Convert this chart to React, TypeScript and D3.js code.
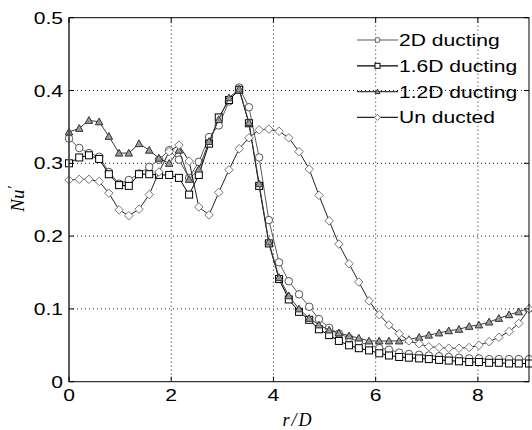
import React from "react";
import * as d3 from "d3";

// r/D stations (47 points, same for all series)
const rValues = [
  0, 0.2, 0.39, 0.59, 0.78, 0.98, 1.17, 1.37, 1.57, 1.76, 1.96, 2.15, 2.35, 2.54, 2.74, 2.93,
  3.13, 3.33, 3.52, 3.72, 3.91, 4.11, 4.3, 4.5, 4.7, 4.89, 5.09, 5.28, 5.48, 5.67, 5.87, 6.07,
  6.26, 6.46, 6.65, 6.85, 7.04, 7.24, 7.43, 7.63, 7.83, 8.02, 8.22, 8.41, 8.61, 8.8, 9.0,
];

const nu2D = [
  0.334, 0.321, 0.314, 0.309, 0.288, 0.272, 0.277, 0.286, 0.295, 0.305, 0.318, 0.305, 0.28, 0.302, 0.336, 0.352,
  0.385, 0.404, 0.377, 0.308, 0.222, 0.164, 0.138, 0.12, 0.103, 0.086, 0.074, 0.066, 0.06, 0.055, 0.05, 0.046,
  0.044, 0.04, 0.038, 0.037, 0.036, 0.035, 0.034, 0.033, 0.032, 0.032, 0.031, 0.031, 0.031, 0.031, 0.031,
];

const nu16D = [
  0.3, 0.308, 0.311, 0.306, 0.285, 0.27, 0.269, 0.285, 0.285, 0.284, 0.284, 0.28, 0.257, 0.284, 0.327, 0.363,
  0.387, 0.401, 0.355, 0.269, 0.19, 0.141, 0.113, 0.096, 0.085, 0.072, 0.064, 0.056, 0.05, 0.046, 0.043, 0.039,
  0.036, 0.034, 0.033, 0.032, 0.031, 0.03, 0.029, 0.028, 0.027, 0.027, 0.026, 0.026, 0.025, 0.025, 0.025,
];

const nu12D = [
  0.343, 0.348, 0.359, 0.357, 0.337, 0.314, 0.314, 0.327, 0.318, 0.307, 0.3, 0.318, 0.278, 0.292, 0.33, 0.36,
  0.39, 0.402, 0.356, 0.272, 0.192, 0.143, 0.118, 0.1, 0.087, 0.078, 0.071, 0.067, 0.063, 0.06, 0.056, 0.056,
  0.056, 0.056, 0.058, 0.061, 0.064, 0.067, 0.07, 0.072, 0.076, 0.078, 0.082, 0.087, 0.092, 0.096, 0.101,
];

const nuUnducted = [
  0.277, 0.278, 0.278, 0.275, 0.259, 0.236, 0.228, 0.237, 0.257, 0.288, 0.316, 0.325, 0.303, 0.24, 0.229, 0.26,
  0.291, 0.32, 0.335, 0.346, 0.347, 0.344, 0.335, 0.316, 0.292, 0.256, 0.221, 0.189, 0.162, 0.137, 0.111, 0.092,
  0.078, 0.066, 0.056, 0.052, 0.048, 0.047, 0.046, 0.046, 0.047, 0.05, 0.055, 0.061, 0.069, 0.08, 0.1,
];

const seriesNames = ["2D ducting", "1.6D ducting", "1.2D ducting", "Un ducted"];
const xTicks = [0, 2, 4, 6, 8];
const yTicks = [0, 0.1, 0.2, 0.3, 0.4, 0.5];

const series = [
  { name: seriesNames[0], values: nu2D, line: "#5a5a5a", marker: "circle", stroke: "#555", fill: "#fff" },
  { name: seriesNames[1], values: nu16D, line: "#000", marker: "square", stroke: "#000", fill: "#fff" },
  { name: seriesNames[2], values: nu12D, line: "#3a3a3a", marker: "triangle", stroke: "#333", fill: "#9a9a9a" },
  { name: seriesNames[3], values: nuUnducted, line: "#222", marker: "diamond", stroke: "#777", fill: "#fff" },
];

const W = 532, H = 430;
const left = 69, right = 529, top = 17.7, bottom = 381.7;
const FONT = "'Liberation Sans', Arial, sans-serif";
const SERIF = "'Liberation Serif', 'Times New Roman', serif";
const STRETCH = 1.24;

function Marker({ type, x, y, s, stroke, fill }) {
  if (type === "circle") return <circle cx={x} cy={y} r={s / 2} stroke={stroke} fill={fill} />;
  if (type === "square") return <rect x={x - s / 2} y={y - s / 2} width={s} height={s} stroke={stroke} fill={fill} />;
  if (type === "triangle") {
    const h = s / 2;
    return <path d={`M${x},${y - h} L${x + h},${y + h * 0.8} L${x - h},${y + h * 0.8} Z`} stroke={stroke} fill={fill} />;
  }
  const h = s / 2 + 0.5;
  return <path d={`M${x},${y - h} L${x + h},${y} L${x},${y + h} L${x - h},${y} Z`} stroke={stroke} fill={fill} />;
}

function StretchText({ x, y, anchor, size, children }) {
  return (
    <g transform={`translate(${x},${y}) scale(${STRETCH},1)`}>
      <text x={0} y={0} textAnchor={anchor} fontFamily={FONT} fontSize={size} fill="#000">
        {children}
      </text>
    </g>
  );
}

export default function App() {
  const x = d3.scaleLinear().domain([0, 9]).range([left, right]);
  const y = d3.scaleLinear().domain([0, 0.5]).range([bottom, top]);
  const line = d3
    .line<number>()
    .x((_, i) => x(rValues[i]))
    .y((d) => y(d));

  const legendX1 = 357, legendX2 = 398, legendY0 = 40, legendStep = 25.8;

  return (
    <svg width={W} height={H} style={{ position: "absolute", left: 0, top: 0, background: "#fff" }}>
      <rect x={0} y={0} width={W} height={H} fill="#fff" />

      {/* grid */}
      {xTicks.filter((t) => t > 0).map((t) => (
        <line key={"gx" + t} x1={x(t)} x2={x(t)} y1={top} y2={bottom} stroke="#222" strokeWidth={1} strokeDasharray="1,3" />
      ))}
      {yTicks.filter((t) => t > 0 && t < 0.5).map((t) => (
        <line key={"gy" + t} x1={left} x2={right} y1={y(t)} y2={y(t)} stroke="#222" strokeWidth={1} strokeDasharray="1,3" />
      ))}

      {/* series */}
      {series.map((s) => (
        <g key={s.name}>
          <path d={line(s.values)} fill="none" stroke={s.line} strokeWidth={1} />
          {s.values.map((v, i) => (
            <Marker key={i} type={s.marker} x={x(rValues[i])} y={y(v)} s={s.marker === "square" ? 7 : 7.5} stroke={s.stroke} fill={s.fill} />
          ))}
        </g>
      ))}

      {/* axes box */}
      <rect x={left} y={top} width={right - left} height={bottom - top} fill="none" stroke="#000" strokeWidth={1} />
      <line x1={left} x2={left} y1={top} y2={bottom} stroke="#555" strokeWidth={1.6} />
      {xTicks.map((t) => (
        <g key={"tx" + t}>
          <line x1={x(t)} x2={x(t)} y1={bottom} y2={bottom - 5} stroke="#000" />
          <line x1={x(t)} x2={x(t)} y1={top} y2={top + 5} stroke="#000" />
          <StretchText x={x(t)} y={bottom + 19} anchor="middle" size={17}>{t}</StretchText>
        </g>
      ))}
      {yTicks.map((t) => (
        <g key={"ty" + t}>
          <line x1={left} x2={left + 5} y1={y(t)} y2={y(t)} stroke="#000" />
          <line x1={right} x2={right - 5} y1={y(t)} y2={y(t)} stroke="#000" />
          <StretchText x={63} y={y(t) + 6} anchor="end" size={17}>{t === 0 ? "0" : t.toFixed(1)}</StretchText>
        </g>
      ))}

      {/* axis labels */}
      <text x={298} y={426} textAnchor="middle" fontFamily={SERIF} fontStyle="italic" fontSize={18} letterSpacing={2}>
        r/D
      </text>
      <text transform="translate(24,199) rotate(-90)" textAnchor="middle" fontFamily={SERIF} fontStyle="italic" fontSize={19}>
        Nu<tspan dy={-6} fontSize={15}>′</tspan>
      </text>

      {/* legend */}
      {series.map((s, i) => {
        const ly = legendY0 + i * legendStep;
        return (
          <g key={"lg" + s.name}>
            <line x1={legendX1} x2={legendX2} y1={ly} y2={ly} stroke={s.line} strokeWidth={1.2} />
            <Marker type={s.marker} x={(legendX1 + legendX2) / 2} y={ly} s={5} stroke={s.stroke} fill={s.fill} />
            <StretchText x={legendX2 + 1} y={ly + 6} anchor="start" size={17}>{s.name}</StretchText>
          </g>
        );
      })}
    </svg>
  );
}
